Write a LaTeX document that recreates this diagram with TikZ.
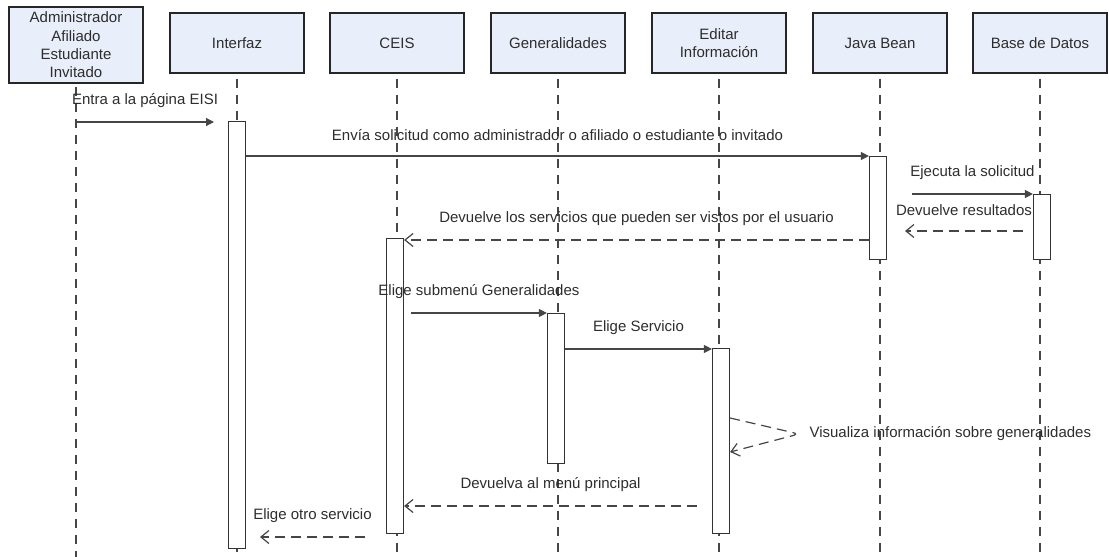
\documentclass[tikz,border=0pt]{standalone}
\usepackage{fontspec}
\setmainfont{Liberation Sans}
\usetikzlibrary{arrows.meta}
\definecolor{HeadFill}{RGB}{232,238,250}
\definecolor{LineGray}{RGB}{70,70,70}
\definecolor{TextGray}{RGB}{45,45,45}
\tikzset{
	head/.style={draw=black!85,fill=HeadFill,line width=1.3pt,minimum width=134pt,minimum height=60pt,
		inner sep=2pt,align=center,font=\fontsize{15}{18.3}\selectfont,text=TextGray},
	life/.style={draw=LineGray,line width=1.2pt,dash pattern=on 9pt off 7pt},
	bar/.style={draw=black!80,fill=white,line width=1.2pt,minimum width=17pt,inner sep=0pt,anchor=north},
	call/.style={draw=LineGray,line width=1.2pt,-{Triangle[length=8pt,width=8pt]}},
	reply/.style={draw=LineGray,line width=1.2pt,dash pattern=on 10pt off 6pt,-{Straight Barb[length=8pt,width=13pt]}},
	msgtxt/.style={midway,yshift=21pt,font=\fontsize{15}{18}\selectfont,text=TextGray},
}

\begin{document}
\begin{tikzpicture}[x=1pt,y=-1pt]
	\useasboundingbox (0,0) rectangle (1109,557);
	\coordinate (bottom) at (0,557);
	% cabeceras
	\node[head,minimum height=76pt] (actor) at (76,45) {Administrador\\Afiliado\\Estudiante\\Invitado};
	\node[head] (inter) at (237,43) {Interfaz};
	\node[head] (ceis) at (397,43) {CEIS};
	\node[head] (gen) at (558,43) {Generalidades};
	\node[head] (edit) at (719,43) {Editar\\Información};
	\node[head] (bean) at (880,43) {Java Bean};
	\node[head] (bd) at (1040,43) {Base de Datos};
	% lineas de vida
	\draw[life] ([yshift=-3pt]actor.south) -- (actor |- bottom);
	\draw[life] ([yshift=-5pt]inter.south) -- (inter |- bottom);
	\draw[life] ([yshift=-5pt]ceis.south) -- (ceis |- bottom);
	\draw[life] ([yshift=-5pt]gen.south) -- (gen |- bottom);
	\draw[life] ([yshift=-5pt]edit.south) -- (edit |- bottom);
	\draw[life] ([yshift=-5pt]bean.south) -- (bean |- bottom);
	\draw[life] ([yshift=-5pt]bd.south) -- (bd |- bottom);
	% activaciones
	\node[bar,minimum height=427pt] (barI) at (237,121) {};
	\node[bar,minimum height=103pt] (barJ) at (878,156) {};
	\node[bar,minimum height=65pt] (barB) at (1042,194) {};
	\node[bar,minimum height=295pt] (barC) at (395,238) {};
	\node[bar,minimum height=150pt] (barG) at (556,313) {};
	\node[bar,minimum height=185pt] (barE) at (721,348) {};
	% extremos libres
	\coordinate (entra) at (214,122);
	\coordinate (ejec) at (912,194);
	\coordinate (res1) at (1023,231);
	\coordinate (res2) at (905,231);
	\coordinate (sub) at (411,313);
	\coordinate (menu) at (697,506);
	\coordinate (otro1) at (365,537);
	\coordinate (otro2) at (260,537);
	% mensajes
	\draw[call] (actor |- entra) -- node[msgtxt] {Entra a la página EISI} (entra);
	\draw[call] (barI.east |- 0,156) -- node[msgtxt] {Envía solicitud como administrador o afiliado o estudiante o invitado} (barJ.north west);
	\draw[call] (ejec) -- node[msgtxt] {Ejecuta la solicitud} (barB.north west);
	\draw[reply] (res1) -- node[msgtxt] {Devuelve resultados} (res2);
	\draw[reply] (barJ.west |- 0,240) -- node[msgtxt] {Devuelve los servicios que pueden ser vistos por el usuario} (barC.east |- 0,240);
	\draw[call] (sub) -- node[msgtxt] {Elige submenú Generalidades} (barG.north west);
	\draw[call] (barG.east |- 0,349) -- node[msgtxt] {Elige Servicio} (barE.west |- 0,349);
	\node[anchor=west,font=\fontsize{15}{18}\selectfont,text=TextGray] (vis) at (806,434) {Visualiza información sobre generalidades};
	\draw[reply,rounded corners=6pt] (barE.east |- 0,418) -- ([xshift=-7pt]vis.west) -- (barE.east |- 0,452);
	\draw[reply] (menu) -- node[msgtxt] {Devuelva al menú principal} (barC.east |- menu);
	\draw[reply] (otro1) -- node[msgtxt] {Elige otro servicio} (otro2);
\end{tikzpicture}
\end{document}
